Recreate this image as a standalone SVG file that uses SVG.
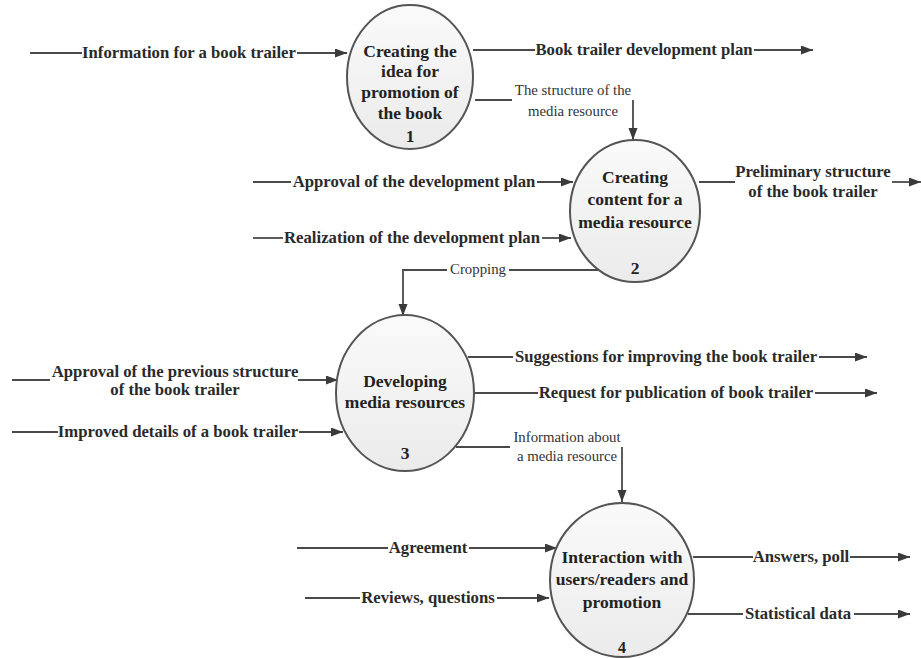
<svg xmlns="http://www.w3.org/2000/svg" width="921" height="658" viewBox="0 0 921 658">
<style>
.bg{fill:#ffffff}
.proc{stroke:#555555;stroke-width:2;fill:url(#pg)}
.pt{font-family:"Liberation Serif","Times New Roman",serif;font-weight:bold;font-size:17.5px;fill:#222222;text-anchor:middle}
.lb{font-family:"Liberation Serif","Times New Roman",serif;font-weight:bold;font-size:16.7px;fill:#2a2a2a;text-anchor:middle}
.ln{font-family:"Liberation Serif","Times New Roman",serif;font-size:14.8px;fill:#333333;text-anchor:middle}
.c{stroke:#4a4a4a;stroke-width:1.8;fill:none}
.a{marker-end:url(#ah)}
</style>
<defs>
<linearGradient id="pg" x1="0" y1="0" x2="0" y2="1">
<stop offset="0" stop-color="#fafafa"/>
<stop offset="1" stop-color="#ebebeb"/>
</linearGradient>
<marker id="ah" markerUnits="userSpaceOnUse" markerWidth="13" markerHeight="10" refX="12" refY="4.5" orient="auto">
<path d="M0,0 L12,4.5 L0,9 z" fill="#3a3a3a"/>
</marker>
</defs>
<rect class="bg" x="0" y="0" width="921" height="658"/>

<g id="connectors">
<!-- Information for a book trailer -->
<path class="c" d="M30,53 H82"/>
<path class="c a" d="M297,53 H347"/>
<text class="lb" x="189" y="58">Information for a book trailer</text>
<!-- Book trailer development plan -->
<path class="c" d="M473,50 H535"/>
<path class="c a" d="M754,50 H813"/>
<text class="lb" x="644" y="55">Book trailer development plan</text>
<!-- The structure of the media resource -->
<path class="c" d="M475,100 H512"/>
<path class="c a" d="M633,100 V140"/>
<text class="ln" x="573" y="95">The structure of the</text>
<text class="ln" x="573" y="116">media resource</text>
<!-- Approval of the development plan -->
<path class="c" d="M253,182 H291"/>
<path class="c a" d="M537,182 H573"/>
<text class="lb" x="414" y="187">Approval of the development plan</text>
<!-- Realization of the development plan -->
<path class="c" d="M253,238 H283"/>
<path class="c a" d="M542,238 H571"/>
<text class="lb" x="412" y="243">Realization of the development plan</text>
<!-- Preliminary structure -->
<path class="c" d="M699,182 H735"/>
<path class="c a" d="M892,182 H921"/>
<text class="lb" x="813" y="177">Preliminary structure</text>
<text class="lb" x="813" y="197">of the book trailer</text>
<!-- Cropping -->
<path class="c" d="M599,270 H509"/>
<path class="c a" d="M447,270 H403 V316"/>
<text class="ln" x="478" y="274">Cropping</text>
<!-- Approval of the previous structure -->
<path class="c" d="M12,380 H50"/>
<path class="c a" d="M298,380 H338"/>
<text class="lb" x="175" y="377">Approval of the previous structure</text>
<text class="lb" x="175" y="395">of the book trailer</text>
<!-- Improved details -->
<path class="c" d="M12,432 H58"/>
<path class="c a" d="M299,432 H343"/>
<text class="lb" x="178" y="437">Improved details of a book trailer</text>
<!-- Suggestions -->
<path class="c" d="M468,357 H513"/>
<path class="c a" d="M819,357 H867"/>
<text class="lb" x="666" y="362">Suggestions for improving the book trailer</text>
<!-- Request -->
<path class="c" d="M475,393 H538"/>
<path class="c a" d="M815,393 H877"/>
<text class="lb" x="676" y="398">Request for publication of book trailer</text>
<!-- Information about a media resource -->
<path class="c" d="M456,447 H510"/>
<path class="c a" d="M622,447 V502"/>
<text class="ln" x="567" y="442">Information about</text>
<text class="ln" x="567" y="461">a media resource</text>
<!-- Agreement -->
<path class="c" d="M297,548 H388"/>
<path class="c a" d="M469,548 H557"/>
<text class="lb" x="428" y="553">Agreement</text>
<!-- Reviews, questions -->
<path class="c" d="M305,598 H360"/>
<path class="c a" d="M497,598 H549"/>
<text class="lb" x="428" y="603">Reviews, questions</text>
<!-- Answers, poll -->
<path class="c" d="M693,557 H753"/>
<path class="c a" d="M850,557 H910"/>
<text class="lb" x="801" y="562">Answers, poll</text>
<!-- Statistical data -->
<path class="c" d="M688,614 H743"/>
<path class="c a" d="M854,614 H910"/>
<text class="lb" x="798" y="619">Statistical data</text>
</g>

<g id="node1">
<ellipse class="proc" cx="410" cy="77" rx="63" ry="72"/>
<text class="pt" x="410" y="57">Creating the</text>
<text class="pt" x="410" y="77">idea for</text>
<text class="pt" x="410" y="98">promotion of</text>
<text class="pt" x="410" y="119">the book</text>
<text class="pt" x="410" y="142">1</text>
</g>
<g id="node2">
<ellipse class="proc" cx="635" cy="211" rx="65" ry="71"/>
<text class="pt" x="635" y="183">Creating</text>
<text class="pt" x="635" y="205">content for a</text>
<text class="pt" x="635" y="228">media resource</text>
<text class="pt" x="635" y="274">2</text>
</g>
<g id="node3">
<ellipse class="proc" cx="405" cy="393" rx="69" ry="78"/>
<text class="pt" x="405" y="387">Developing</text>
<text class="pt" x="405" y="408">media resources</text>
<text class="pt" x="405" y="459">3</text>
</g>
<g id="node4">
<ellipse class="proc" cx="622" cy="580" rx="72" ry="77"/>
<text class="pt" x="622" y="563">Interaction with</text>
<text class="pt" x="622" y="585">users/readers and</text>
<text class="pt" x="622" y="608">promotion</text>
<text class="pt" x="622" y="653" style="font-size:16px">4</text>
</g>
</svg>
